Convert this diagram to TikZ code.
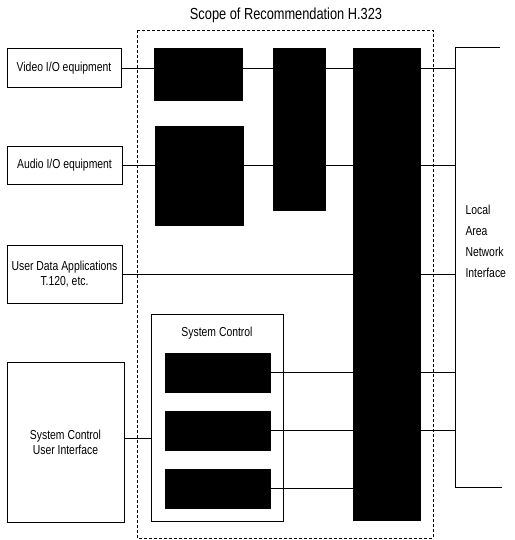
\documentclass[tikz,border=0pt]{standalone}
\usepackage{fontspec}
\setmainfont[FakeStretch=0.8]{Liberation Sans}
\begin{document}
\begin{tikzpicture}[x=1pt,y=-1pt,
  wbox/.style={draw, line width=0.8pt, fill=white, inner sep=0pt},
  blk/.style={draw=black, fill=black, inner sep=0pt},
  ln/.style={line width=0.8pt},
  lbl/.style={font=\fontsize{13}{15}\selectfont, align=center},
  scope/.style={dashed, line width=0.7pt, dash pattern=on 3pt off 2pt}]
\useasboundingbox (0,0) rectangle (514,540);

% dashed scope border
\draw[scope] (137,30) rectangle (433,538);
\node[font=\fontsize{16}{18}\selectfont] (title) at (286,15) {Scope of Recommendation H.323};

% external boxes
\node[wbox, minimum width=114pt, minimum height=39pt, lbl] (vid) at (64,68) {Video I/O equipment};
\node[wbox, minimum width=115pt, minimum height=38pt, lbl] (aud) at (64.5,165) {Audio I/O equipment};
\node[wbox, minimum width=115pt, minimum height=58pt, lbl] (udat) at (64.5,274) {User Data Applications\\T.120, etc.};
\node[wbox, minimum width=117pt, minimum height=160pt, lbl] (scui) at (65.5,442) {System Control\\User Interface};

% black blocks
\node[blk, minimum width=88pt, minimum height=52pt] (vcod) at (198,74) {};
\node[blk, minimum width=88pt, minimum height=99pt] (acod) at (199,175.5) {};
\node[blk, minimum width=52pt, minimum height=162pt] (delay) at (299,129) {};
\node[blk, minimum width=67pt, minimum height=472pt] (mux) at (386.5,284) {};

% system control group
\node[wbox, minimum width=132pt, minimum height=207pt] (sysc) at (217,417.5) {};
\node[lbl, anchor=north] (sysct) at ([yshift=-10pt]sysc.north) {System Control};
\node[blk, minimum width=105pt, minimum height=39pt] (sc1) at (217.5,372.5) {};
\node[blk, minimum width=105pt, minimum height=39pt] (sc2) at (217.5,430.5) {};
\node[blk, minimum width=105pt, minimum height=39pt] (sc3) at (217.5,488.5) {};

% LAN interface bracket
\coordinate (lantopend) at (500,47);
\coordinate (lantop) at (455,47);
\coordinate (lanbot) at (455,487);
\coordinate (lanbotend) at (502,487);
\draw[ln] (lantopend) -- (lantop) -- (lanbot) -- (lanbotend);
\node[lbl, align=left, anchor=west, font=\fontsize{13}{21}\selectfont] (lanlbl) at (462,241) {Local\\Area\\Network\\Interface};

% connectors
\draw[ln] (vid.east) -- (vid.east -| lantop);
\draw[ln] (aud.east) -- (aud.east -| lantop);
\draw[ln] (udat.east) -- (udat.east -| lantop);
\draw[ln] (scui.east |- 0,438) -- (sysc.west |- 0,438);
\draw[ln] (sc1.east) -- (sc1.east -| mux.west);
\draw[ln] (sc1.east -| mux.east) -- (sc1.east -| lantop);
\draw[ln] (sc2.east) -- (sc2.east -| mux.west);
\draw[ln] (sc2.east -| mux.east) -- (sc2.east -| lantop);
\draw[ln] (sc3.east) -- (sc3.east -| mux.west);
\end{tikzpicture}
\end{document}
